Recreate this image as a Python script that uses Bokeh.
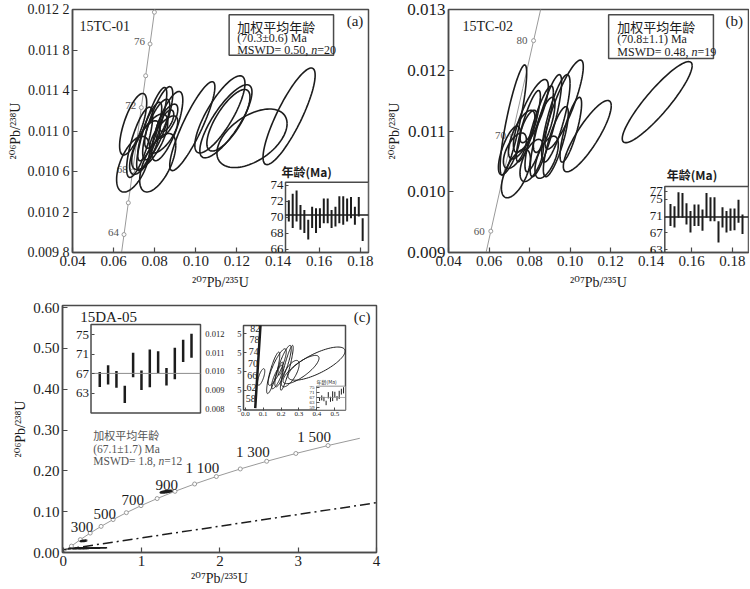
import numpy as np
from bokeh.plotting import figure
from bokeh.models import Range1d, LinearAxis, FixedTicker, Label, BoxAnnotation
from bokeh.layouts import column, row
from bokeh.embed import file_html
from bokeh.resources import INLINE
from bokeh.core.properties import value

SERIF = "Liberation Serif"
TITLE_FONT = "Liberation Serif, DejaVu Serif"
CJK = "Noto Sans CJK SC"
INK = "#1c1c1c"
FRAME = "#4a4a4a"
CONC = "#9a9a9a"
GREY_TXT = "#555555"

LAMBDA_238 = 1.55125e-10
LAMBDA_235 = 9.8485e-10

X_TITLE = "\u00b2\u2070\u2077Pb/\u00b2\u00b3\u2075U"
Y_TITLE = "\u00b2\u2070\u2076Pb/\u00b2\u00b3\u2078U"

# ======================= DATA =======================
# ---- panel (a) 15TC-01 ----
a_x_ticks = [0.04, 0.06, 0.08, 0.10, 0.12, 0.14, 0.16, 0.18]
a_x_labels = ["0.04", "0.06", "0.08", "0.10", "0.12", "0.14", "0.16", "0.18"]
a_y_ticks = [0.0098, 0.0102, 0.0106, 0.0110, 0.0114, 0.0118, 0.0122]
a_y_labels = ["0.009 8", "0.010 2", "0.010 6", "0.011 0", "0.011 4", "0.011 8", "0.012 2"]
a_ell_x = [0.14537, 0.12732, 0.11171, 0.11463, 0.11585, 0.09829, 0.06951, 0.06951, 0.07268, 0.07854,
           0.08146, 0.08146, 0.08610, 0.08585, 0.08585, 0.07756, 0.07756, 0.08122, 0.07512, 0.08439]
a_ell_sx = [0.01268, 0.01707, 0.01220, 0.01268, 0.01049, 0.01098, 0.00659, 0.00805, 0.00634, 0.00732,
            0.00732, 0.00878, 0.00756, 0.00537, 0.00341, 0.00878, 0.00585, 0.00610, 0.00732, 0.00683]
a_ell_y = [0.011145, 0.010928, 0.011164, 0.011096, 0.011106, 0.011048, 0.011067, 0.010672, 0.010889, 0.011019,
           0.011077, 0.010687, 0.011048, 0.011096, 0.011101, 0.010894, 0.010995, 0.011072, 0.010836, 0.010966]
a_ell_sy = [0.000477, 0.000289, 0.000381, 0.000361, 0.000304, 0.000439, 0.000304, 0.000275, 0.000347, 0.000410,
            0.000361, 0.000289, 0.000342, 0.000169, 0.000106, 0.000275, 0.000289, 0.000241, 0.000265, 0.000183]
a_ell_rho = [0.85, 0.5, 0.8, 0.8, 0.75, 0.88, 0.7, 0.55, 0.75, 0.85,
             0.8, 0.6, 0.75, 0.7, 0.6, 0.7, 0.8, 0.75, 0.7, 0.7]
a_conc_line_ages = [62, 64, 66, 68, 70, 72, 74, 76, 78, 80]
a_conc_marker_ages = [64, 66, 68, 70, 72, 74, 76, 78]
a_conc_label_ages = [64, 68, 72, 76]
a_age_hi = [72.15, 72.97, 73.38, 71.54, 70.92, 69.69, 71.33, 71.13, 71.13, 72.36,
            72.36, 70.92, 71.33, 72.65, 72.65, 72.36, 72.56, 71.33, 72.56, 69.90]
a_age_lo = [69.49, 68.67, 69.49, 68.46, 68.05, 67.23, 68.67, 68.05, 68.67, 69.28,
            69.28, 68.67, 68.87, 69.28, 69.08, 69.49, 69.90, 69.08, 70.10, 67.03]
a_mean = 70.3
a_inset_ticks = [66, 68, 70, 72, 74]
a_sample = "15TC-01"
a_tag = "(a)"
a_stats = ["加权平均年龄", "(70.3\u00b10.6) Ma", "MSWD= 0.50, ", "n", "=20"]

# ---- panel (b) 15TC-02 ----
b_x_ticks = [0.04, 0.06, 0.08, 0.10, 0.12, 0.14, 0.16, 0.18]
b_x_labels = ["0.04", "0.06", "0.08", "0.10", "0.12", "0.14", "0.16", "0.18"]
b_y_ticks = [0.009, 0.010, 0.011, 0.012, 0.013]
b_y_labels = ["0.009", "0.010", "0.011", "0.012", "0.013"]
b_ell_x = [0.07202, 0.07325, 0.07005, 0.08064, 0.07941, 0.08473, 0.08803, 0.08719, 0.09296, 0.09704,
           0.09296, 0.10034, 0.10847, 0.14296, 0.07611, 0.07276, 0.08103, 0.08842, 0.07941]
b_ell_sx = [0.00655, 0.00714, 0.00542, 0.00862, 0.00591, 0.00700, 0.00778, 0.00532, 0.00700, 0.00946,
            0.00616, 0.00532, 0.01182, 0.01724, 0.00655, 0.00567, 0.00576, 0.00576, 0.00409]
b_ell_y = [0.011181, 0.010301, 0.010680, 0.011248, 0.011080, 0.011035, 0.011088, 0.011101, 0.011208, 0.011435,
           0.010824, 0.011021, 0.010915, 0.011475, 0.010941, 0.010675, 0.010515, 0.010568, 0.011075]
b_ell_sy = [0.000907, 0.000400, 0.000400, 0.000600, 0.000587, 0.000707, 0.000840, 0.000453, 0.000720, 0.000733,
            0.000576, 0.000533, 0.000587, 0.000667, 0.000400, 0.000293, 0.000347, 0.000347, 0.000267]
b_ell_rho = [0.85, 0.6, 0.7, 0.8, 0.85, 0.85, 0.85, 0.75, 0.8, 0.85,
             0.8, 0.8, 0.85, 0.9, 0.7, 0.6, 0.6, 0.6, 0.7]
b_conc_line_ages = [56, 60, 65, 70, 75, 80, 85]
b_conc_marker_ages = [60, 70, 80]
b_conc_label_ages = [60, 70, 80]
b_age_hi = [73.9, 73.35, 76.7, 76.5, 74.1, 72.2, 73.75, 73.75, 72.6, 76.5,
            75.5, 75.5, 69.8, 73.1, 72.2, 72.8, 72.8, 74.9, 71.4]
b_age_lo = [68.65, 68.25, 70.6, 70.6, 69.0, 67.1, 68.65, 68.65, 67.5, 70.6,
            69.8, 69.8, 64.7, 68.25, 67.1, 67.5, 67.6, 69.4, 66.7]
b_mean = 70.8
b_inset_ticks = [63, 67, 71, 75, 77]
b_sample = "15TC-02"
b_tag = "(b)"
b_stats = ["加权平均年龄", "(70.8\u00b11.1) Ma", "MSWD= 0.48, ", "n", "=19"]

# ---- panel (c) 15DA-05 ----
c_x_ticks = [0, 1, 2, 3, 4]
c_x_labels = ["0", "1", "2", "3", "4"]
c_y_ticks = [0, 0.1, 0.2, 0.3, 0.4, 0.5, 0.6]
c_y_labels = ["0.00", "0.10", "0.20", "0.30", "0.40", "0.50", "0.60"]
c_conc_line_ages = [0, 100, 200, 300, 400, 500, 600, 700, 800, 900, 1000, 1100, 1200, 1300, 1400, 1500, 1590]
c_conc_marker_ages = [100, 200, 300, 400, 500, 600, 700, 800, 900, 1000, 1100, 1200, 1300, 1400, 1500]
c_conc_label_ages = [300, 500, 700, 900, 1100, 1300, 1500]
c_conc_label_text = ["300", "500", "700", "900", "1 100", "1 300", "1 500"]
c_discordia_x = [0, 4]
c_discordia_y = [0.007, 0.122]
# young grains (shown enlarged in the inset)
c_ell_x = [0.089, 0.156, 0.1786, 0.211, 0.232, 0.197, 0.251, 0.3115, 0.398, 0.1786]
c_ell_sx = [0.020, 0.0366, 0.0505, 0.0459, 0.0357, 0.0137, 0.050, 0.1005, 0.1596, 0.032]
c_ell_y = [0.010206, 0.010425, 0.010733, 0.010780, 0.010690, 0.010648, 0.010384, 0.010600, 0.010913, 0.010204]
c_ell_sy = [0.00044, 0.00110, 0.00097, 0.00110, 0.00119, 0.00035, 0.00070, 0.00075, 0.00088, 0.00062]
c_ell_rho = [0.7, 0.85, 0.85, 0.85, 0.9, 0.7, 0.7, 0.8, 0.75, 0.8]
# older / discordant grains
c_old_x = [0.26, 1.315]
c_old_sx = [0.04, 0.075]
c_old_y = [0.0285, 0.149]
c_old_sy = [0.0015, 0.003]
c_old_rho = [0.6, 0.7]
c_age_hi = [67.39, 68.74, 67.61, 64.57, 71.33, 67.68, 71.98, 71.60, 68.21, 72.36, 73.98, 75.20]
c_age_lo = [64.34, 64.81, 64.15, 61.05, 66.33, 63.70, 64.26, 67.19, 64.61, 65.91, 69.42, 70.32]
c_mean = 67.1
c_inset_ticks = [63, 67, 71, 75]
c2_conc_line_ages = [54.9, 58, 62, 66, 70, 74, 78, 82, 82.9]
c2_conc_label_ages = [58, 62, 66, 70, 74, 78, 82]
c2_y_ticks = [0.0085, 0.0095, 0.0105, 0.0115, 0.0125]
c2_y_labels = ["0.008\u2003\u20025", "0.009\u2003\u20025", "0.010\u2003\u20025", "0.011\u2003\u20025",
               "0.012\u2003\u20025"]
c2_x_ticks = [0, 0.1, 0.2, 0.3, 0.4, 0.5]
c2_x_labels = ["0.0", "0.1", "0.2", "0.3", "0.4", "0.5"]
c3_ticks = [59, 63, 67, 71, 75]
c_sample = "15DA-05"
c_tag = "(c)"
c_stats = ["加权平均年龄", "(67.1\u00b11.7) Ma", "MSWD= 1.8, ", "n", "=12"]
inset_title = "年龄(Ma)"


# ======================= HELPERS =======================
def concordia(ages):
    t = np.asarray(ages, dtype=float) * 1e6
    return np.expm1(LAMBDA_235 * t), np.expm1(LAMBDA_238 * t)


def ellipses(cx, cy, sx, sy, rho, n=96):
    t = np.linspace(0.0, 2.0 * np.pi, n)
    xs, ys = [], []
    for x0, y0, ax, ay, r in zip(cx, cy, sx, sy, rho):
        xs.append(list(x0 + ax * np.cos(t)))
        ys.append(list(y0 + ay * (r * np.cos(t) + np.sqrt(1 - r * r) * np.sin(t))))
    return xs, ys


def make_fig(xr, yr, w, h, borders, xt, xl, yt, yl, xfs, yfs, x_title_gap=6):
    bl, br, bt, bb = borders
    p = figure(x_range=Range1d(*xr), y_range=Range1d(*yr), width=w, height=h,
               min_border_left=bl, min_border_right=br, min_border_top=bt, min_border_bottom=bb,
               output_backend="svg", toolbar_location=None)
    p.outline_line_color = FRAME
    p.outline_line_width = 1.5
    p.xgrid.visible = False
    p.ygrid.visible = False
    p.background_fill_color = "white"
    p.border_fill_color = "white"
    for ax, ticks, labels, fs, title in ((p.xaxis[0], xt, xl, xfs, X_TITLE),
                                         (p.yaxis[0], yt, yl, yfs, Y_TITLE)):
        ax.ticker = FixedTicker(ticks=ticks)
        ax.major_label_overrides = dict(zip(ticks, labels))
        ax.major_tick_in = 5
        ax.major_tick_out = 0
        ax.minor_tick_line_color = None
        ax.axis_line_color = FRAME
        ax.axis_line_width = 1.5
        ax.major_tick_line_color = FRAME
        ax.major_tick_line_width = 1.2
        ax.major_label_text_font = SERIF
        ax.major_label_text_font_size = f"{fs}px"
        ax.major_label_text_color = INK
        ax.major_label_standoff = 3
        ax.axis_label = title
        ax.axis_label_text_font = TITLE_FONT
        ax.axis_label_text_font_style = "normal"
        ax.axis_label_text_font_size = "14px"
        ax.axis_label_text_color = INK
        ax.axis_label_standoff = 2
    p.xaxis[0].axis_label_standoff = x_title_gap
    return p


def add_inset(p, name, xlo, xhi, ylo, yhi, fx, fy, line_color=FRAME, line_width=1.5):
    fx0, fx1 = fx
    fy0, fy1 = fy
    sx = (xhi - xlo) / (fx1 - fx0)
    sy = (yhi - ylo) / (fy1 - fy0)
    x0 = xlo - fx0 * sx
    y0 = ylo - fy0 * sy
    p.extra_x_ranges = {**p.extra_x_ranges, name + "_x": Range1d(x0, x0 + sx)}
    p.extra_y_ranges = {**p.extra_y_ranges, name + "_y": Range1d(y0, y0 + sy)}
    kw = dict(x_range_name=name + "_x", y_range_name=name + "_y")
    p.quad(left=[xlo], right=[xhi], bottom=[ylo], top=[yhi], fill_color="white",
           line_color=line_color, line_width=line_width, **kw)
    return kw


def inset_axis(p, kw, side, loc, ticks, labels, size, standoff=2, tick_in=3):
    ax = LinearAxis(fixed_location=loc, ticker=FixedTicker(ticks=ticks),
                    major_label_overrides=dict(zip(ticks, labels)), **kw)
    ax.axis_line_color = None
    ax.major_tick_in = tick_in
    ax.major_tick_out = 0
    ax.major_tick_line_color = FRAME
    ax.minor_tick_line_color = None
    ax.major_label_text_font = SERIF
    ax.major_label_text_font_size = f"{size}px"
    ax.major_label_standoff = standoff
    ax.major_label_text_color = INK
    p.add_layout(ax, side)


def label(p, x, y, text, size, font=SERIF, color=INK, align="left", baseline="middle",
          style="normal", xo=0, yo=0, **kw):
    p.add_layout(Label(x=x, y=y, text=text, text_font=font, text_font_size=f"{size}px",
                       text_color=color, text_align=align, text_baseline=baseline,
                       text_font_style=style, x_offset=xo, y_offset=yo, **kw))


def stats_block(p, x, ys, stats, size, cjk_size, color, n_off, eq_off):
    label(p, x, ys[0], stats[0], cjk_size, font=CJK, color=color)
    label(p, x, ys[1], stats[1], size, color=color)
    label(p, x, ys[2], stats[2], size, color=color)
    label(p, x, ys[2], stats[3], size, color=color, style="italic", xo=n_off)
    label(p, x, ys[2], stats[4], size, color=color, xo=eq_off)


def wm_inset(p, kw, xlo, xhi, hi, lo, mean, ticks, bar_w, mean_color, mean_w, tick_size):
    idx = np.arange(1, len(hi) + 1)
    p.segment(idx, lo, idx, hi, line_color=INK, line_width=bar_w, **kw)
    p.line([xlo, xhi], [mean, mean], line_color=mean_color, line_width=mean_w, **kw)
    inset_axis(p, kw, "left", xlo, ticks, [str(t) for t in ticks], tick_size)


def concordia_panel(p, line_ages, marker_ages, label_ages, label_text, fs, xo, yo, align, baseline, color,
                    msize=4):
    cx, cy = concordia(line_ages)
    p.line(cx, cy, line_color=CONC, line_width=1)
    mx, my = concordia(marker_ages)
    p.scatter(mx, my, size=msize, marker="circle", fill_color="white", line_color=CONC, line_width=1)
    lx, ly = concordia(label_ages)
    p.text(lx, ly, text=label_text, text_font=value(SERIF), text_font_size=f"{fs}px",
           text_color=color, text_align=align, text_baseline=baseline, x_offset=xo, y_offset=yo)


# ======================= PANEL (a) =======================
pa = make_fig((0.04, 0.184), (0.0098, 0.0122), 380, 297, (72, 12, 6, 45),
              a_x_ticks, a_x_labels, a_y_ticks, a_y_labels, 15, 14)
concordia_panel(pa, a_conc_line_ages, a_conc_marker_ages, a_conc_label_ages,
                [str(a) for a in a_conc_label_ages], 11, -5, -2, "right", "middle", GREY_TXT)
xs, ys = ellipses(a_ell_x, a_ell_y, a_ell_sx, a_ell_sy, a_ell_rho)
pa.multi_line(xs, ys, line_color=INK, line_width=1.6)

kwa = add_inset(pa, "ia", 0.15, 21.5, 65.6, 74.4, (0.7196, 1.0), (0.0, 0.289))
wm_inset(pa, kwa, 0.15, 21.5, a_age_hi, a_age_lo, a_mean, a_inset_ticks, 2, INK, 1.5, 13)
label(pa, 0.15, 74.4, inset_title, 12, font=CJK, align="left", baseline="bottom", xo=-4, yo=2,
      style="bold", **kwa)

pa.add_layout(BoxAnnotation(left=0.1162, right=0.167, bottom=0.011747, top=0.012149,
                            fill_color="white", fill_alpha=1, line_color=FRAME, line_alpha=1,
                            line_width=1.5))
stats_block(pa, 0.1201, [0.012036, 0.011918, 0.011802], a_stats, 12, 13, INK, 74.1, 80.1)
label(pa, 0.0434, 0.012036, a_sample, 14)
label(pa, 0.1815, 0.012084, a_tag, 15, align="right")

# ======================= PANEL (b) =======================
pb = make_fig((0.04, 0.188), (0.009, 0.013), 369, 297, (68, 1, 9, 44),
              b_x_ticks, b_x_labels, b_y_ticks, b_y_labels, 15, 17)
concordia_panel(pb, b_conc_line_ages, b_conc_marker_ages, b_conc_label_ages,
                [str(a) for a in b_conc_label_ages], 11, -6, 0, "right", "middle", GREY_TXT)
xs, ys = ellipses(b_ell_x, b_ell_y, b_ell_sx, b_ell_sy, b_ell_rho)
pb.multi_line(xs, ys, line_color=INK, line_width=1.6)

kwb = add_inset(pb, "ib", -0.42, 20.5, 62.3, 78.1, (0.721, 1.0), (0.0, 0.272))
wm_inset(pb, kwb, -0.42, 20.5, b_age_hi, b_age_lo, b_mean, b_inset_ticks, 2, INK, 1.5, 13)
label(pb, -0.42, 78.1, inset_title, 12, font=CJK, align="left", baseline="bottom", xo=2, yo=3,
      style="bold", **kwb)

pb.add_layout(BoxAnnotation(left=0.119, right=0.1707, bottom=0.012195, top=0.012915,
                            fill_color="white", fill_alpha=1, line_color=FRAME, line_alpha=1,
                            line_width=1.5))
stats_block(pb, 0.1233, [0.012728, 0.012515, 0.012301], b_stats, 12, 13, INK, 74.1, 80.1)
label(pb, 0.0469, 0.012712, b_sample, 14)
label(pb, 0.1853, 0.012808, b_tag, 15, align="right")

# ======================= PANEL (c) =======================
pc = make_fig((-0.01, 4.0), (0, 0.605), 384, 291, (62, 8, 8, 35),
              c_x_ticks, c_x_labels, c_y_ticks, c_y_labels, 15, 15, x_title_gap=2)
pc.line(c_discordia_x, c_discordia_y, line_color=INK, line_width=1.5, line_dash="10 4 2 4")
concordia_panel(pc, c_conc_line_ages, c_conc_marker_ages, c_conc_label_ages, c_conc_label_text,
                15, 3, -1, "right", "bottom", INK)
xs, ys = ellipses(c_ell_x, c_ell_y, c_ell_sx, c_ell_sy, c_ell_rho)
pc.multi_line(xs, ys, line_color=INK, line_width=1.5)
xs2, ys2 = ellipses(c_old_x, c_old_y, c_old_sx, c_old_sy, c_old_rho)
pc.multi_line(xs2, ys2, line_color=INK, line_width=1.8)

stats_block(pc, 0.383, [0.2868, 0.2544, 0.2251], c_stats, 11.5, 11, GREY_TXT, 65.3, 71.0)
label(pc, 0.217, 0.577, c_sample, 15)
label(pc, 3.923, 0.5763, c_tag, 15, align="right")

# inset 1: weighted mean ages
kw1 = add_inset(pc, "c1", -0.05, 13.08, 59.0, 77.1, (0.0908, 0.4395), (0.5645, 0.9234))
wm_inset(pc, kw1, -0.05, 13.08, c_age_hi, c_age_lo, c_mean, c_inset_ticks, 2.5, "#8c8c8c", 1, 13)

# inset 2: enlarged concordia
kw2 = add_inset(pc, "c2", -0.01, 0.56, 0.00845, 0.01294, (0.5764, 0.9013), (0.5766, 0.9194))
ix, iy = concordia(c2_conc_line_ages)
pc.line(ix, iy, line_color=INK, line_width=2.5, **kw2)
lx, ly = concordia(c2_conc_label_ages)
pc.text(lx, ly, text=[str(a) for a in c2_conc_label_ages], text_font=value(SERIF), text_font_size="10px",
        text_color=INK, text_align="right", text_baseline="middle", x_offset=0, y_offset=0, **kw2)
xs, ys = ellipses(c_ell_x, c_ell_y, c_ell_sx, c_ell_sy, c_ell_rho)
pc.multi_line(xs, ys, line_color=INK, line_width=1, **kw2)
inset_axis(pc, kw2, "left", -0.01, c2_y_ticks, c2_y_labels, 8.5)
inset_axis(pc, kw2, "below", 0.00845, c2_x_ticks, c2_x_labels, 7)

# inset 3: tiny weighted mean inside inset 2
kw3 = add_inset(pc, "c3", -0.4, 12.9, 57.2, 76.0, (0.809, 0.9013), (0.5766, 0.6734),
                line_color="#777777", line_width=0.8)
wm_inset(pc, kw3, -0.4, 12.9, c_age_hi, c_age_lo, c_mean, c3_ticks, 1, "#8c8c8c", 0.7, 5)
label(pc, -0.4, 76.0, inset_title, 5, font=CJK, align="left", baseline="bottom", xo=0, yo=1, **kw3)

layout = column(row(pa, pb), pc)
open("out.html", "w").write(file_html(layout, INLINE))
